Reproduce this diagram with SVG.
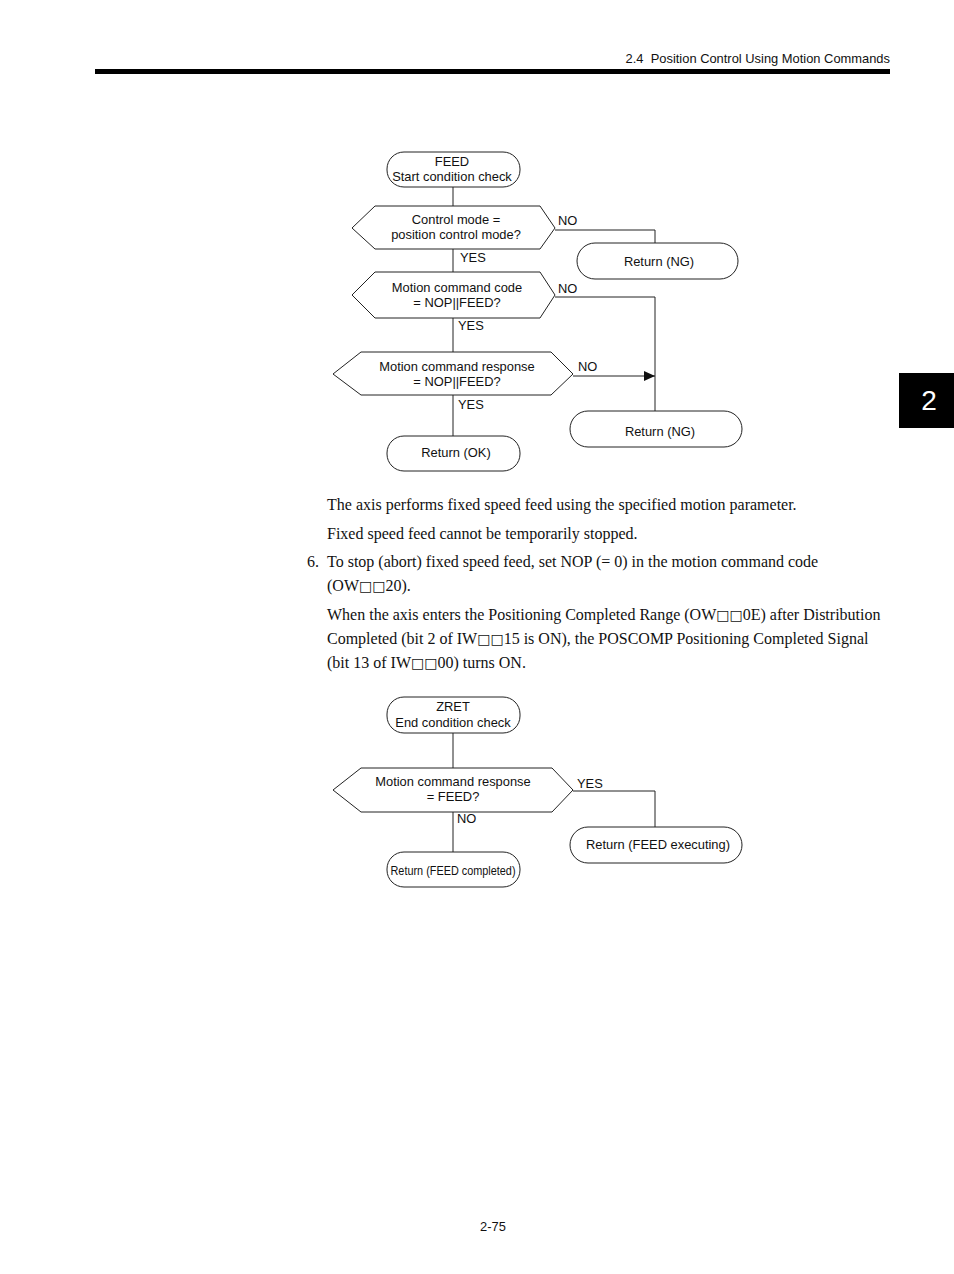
<svg xmlns="http://www.w3.org/2000/svg" width="954" height="1274" viewBox="0 0 954 1274">
<style>
.bg{fill:#fff}
.sh{fill:#fff;stroke:#222;stroke-width:1}
.ln{fill:none;stroke:#222;stroke-width:1}
.t{font-family:"Liberation Sans",Arial,sans-serif;font-size:12.9px;fill:#111}
.c{text-anchor:middle}
.p{font-family:"Liberation Serif","Times New Roman",serif;font-size:16px;fill:#111}
.sq{font-family:"DejaVu Sans",sans-serif;font-weight:bold;font-size:14px}
</style>
<defs>
<marker id="ah" markerWidth="12" markerHeight="10" refX="11" refY="5" orient="auto" markerUnits="userSpaceOnUse">
<path d="M0,0 L11,5 L0,10 Z" fill="#111"/>
</marker>
</defs>
<rect class="bg" x="0" y="0" width="954" height="1274"/>
<g id="header">
<text class="t" x="890" y="63" text-anchor="end" font-size="13" xml:space="preserve">2.4  Position Control Using Motion Commands</text>
<rect x="95" y="69" width="795" height="5" fill="#000"/>
</g>
<g id="tab">
<rect x="899" y="373" width="55" height="55" fill="#000"/>
<text x="929" y="410" text-anchor="middle" font-family="Liberation Sans,Arial,sans-serif" font-size="28" fill="#fff">2</text>
</g>

<g id="connectors">
<path class="ln" d="M453,187 V207"/>
<path class="ln" d="M555,230 H655 V243"/>
<path class="ln" d="M453,249 V272"/>
<path class="ln" d="M555,297 H655 V411"/>
<path class="ln" d="M453,318 V352"/>
<path class="ln" d="M573,376 H655" marker-end="url(#ah)"/>
<path class="ln" d="M453,395 V436"/>
<path class="ln" d="M453,733 V768"/>
<path class="ln" d="M573,791 H655 V827"/>
<path class="ln" d="M453,812 V852"/>
<text class="t" x="558" y="225">NO</text>
<text class="t" x="460" y="262">YES</text>
<text class="t" x="558" y="293">NO</text>
<text class="t" x="458" y="330">YES</text>
<text class="t" x="578" y="371">NO</text>
<text class="t" x="458" y="409">YES</text>
<text class="t" x="577" y="788">YES</text>
<text class="t" x="457" y="823">NO</text>
</g>

<g id="n_feed_start">
<rect class="sh" x="387" y="152" width="133" height="35" rx="17" ry="17"/>
<text class="t c" x="452" y="166">FEED</text>
<text class="t c" x="452" y="181">Start condition check</text>
</g>
<g id="n_ctrl_mode">
<polygon class="sh" points="352,228 375,206 540,206 555,228 540,249 375,249"/>
<text class="t c" x="456" y="224">Control mode =</text>
<text class="t c" x="456" y="239">position control mode?</text>
</g>
<g id="n_return_ng1">
<rect class="sh" x="577" y="243" width="161" height="36" rx="18" ry="18"/>
<text class="t c" x="659" y="266">Return (NG)</text>
</g>
<g id="n_cmd_code">
<polygon class="sh" points="352,295 375,272 540,272 555,295 540,318 375,318"/>
<text class="t c" x="457" y="292">Motion command code</text>
<text class="t c" x="457" y="307">= NOP||FEED?</text>
</g>
<g id="n_cmd_resp">
<polygon class="sh" points="333,374 361,352 551,352 573,374 551,395 361,395"/>
<text class="t c" x="457" y="371">Motion command response</text>
<text class="t c" x="457" y="386">= NOP||FEED?</text>
</g>
<g id="n_return_ok">
<rect class="sh" x="387" y="436" width="133" height="35" rx="17" ry="17"/>
<text class="t c" x="456" y="457">Return (OK)</text>
</g>
<g id="n_return_ng2">
<rect class="sh" x="570" y="411" width="172" height="36" rx="18" ry="18"/>
<text class="t c" x="660" y="436">Return (NG)</text>
</g>

<g id="body_text">
<text class="p" x="327" y="510">The axis performs fixed speed feed using the specified motion parameter.</text>
<text class="p" x="327" y="539">Fixed speed feed cannot be temporarily stopped.</text>
<text class="p" x="307" y="567">6.</text>
<text class="p" x="327" y="567">To stop (abort) fixed speed feed, set NOP (= 0) in the motion command code</text>
<text class="p" x="327" y="591">(OW<tspan class="sq">□□</tspan>20).</text>
<text class="p" x="327" y="620">When the axis enters the Positioning Completed Range (OW<tspan class="sq">□□</tspan>0E) after Distribution</text>
<text class="p" x="327" y="644">Completed (bit 2 of IW<tspan class="sq">□□</tspan>15 is ON), the POSCOMP Positioning Completed Signal</text>
<text class="p" x="327" y="668">(bit 13 of IW<tspan class="sq">□□</tspan>00) turns ON.</text>
</g>

<g id="n_zret_start">
<rect class="sh" x="387" y="697" width="133" height="36" rx="17" ry="17"/>
<text class="t c" x="453" y="711">ZRET</text>
<text class="t c" x="453" y="727">End condition check</text>
</g>
<g id="n_resp_feed">
<polygon class="sh" points="333,790 361,768 552,768 573,790 552,812 361,812"/>
<text class="t c" x="453" y="786">Motion command response</text>
<text class="t c" x="453" y="801">= FEED?</text>
</g>
<g id="n_feed_exec">
<rect class="sh" x="570" y="827" width="172" height="36" rx="18" ry="18"/>
<text class="t c" x="658" y="849">Return (FEED executing)</text>
</g>
<g id="n_feed_done">
<rect class="sh" x="387" y="852" width="133" height="35" rx="17" ry="17"/>
<text class="t c" x="453" y="875" textLength="125" lengthAdjust="spacingAndGlyphs">Return (FEED completed)</text>
</g>

<g id="footer">
<text class="t c" x="493" y="1231">2-75</text>
</g>
</svg>
